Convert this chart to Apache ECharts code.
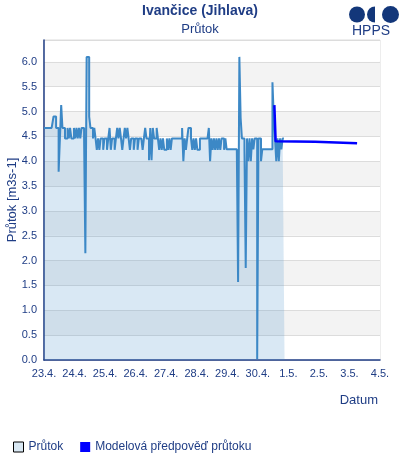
<!DOCTYPE html>
<html>
<head>
<meta charset="utf-8">
<title>Ivančice (Jihlava)</title>
<script src="https://cdn.jsdelivr.net/npm/echarts@6/dist/echarts.min.js"></script>
<style>
  html, body { margin: 0; padding: 0; background: #fff; }
  #chart-area { width: 400px; height: 460px; }
</style>
</head>
<body>
<div id="chart-area"></div>
<script>
// osa x: hodiny od 23.4. 0:00
var dayLabels = ['23.4.', '24.4.', '25.4.', '26.4.', '27.4.', '28.4.', '29.4.', '30.4.', '1.5.', '2.5.', '3.5.', '4.5.']

// měřený průtok, hodinové hodnoty od 23.4. 0:00
var obsFlow = [
  4.67, 4.67, 4.67, 4.67, 4.67, 4.67, 4.67, 4.67, 4.9, 4.9, 4.67, 4.67, 3.79, 4.46, 5.13, 4.67,
  4.67, 4.46, 4.46, 4.67, 4.46, 4.67, 4.46, 4.46, 4.67, 4.46, 4.67, 4.46, 4.67, 4.46, 4.67, 4.67,
  4.46, 2.15, 6.1, 6.1, 4.9, 4.67, 4.67, 4.46, 4.67, 4.46, 4.23, 4.46, 4.23,
  4.46, 4.46, 4.23, 4.46, 4.46, 4.23, 4.46, 4.67,
  4.23, 4.46, 4.46, 4.23, 4.46, 4.67, 4.46, 4.67,
  4.46, 4.23, 4.46, 4.67, 4.46, 4.67, 4.46, 4.23,
  4.46, 4.46, 4.23, 4.46, 4.46, 4.23, 4.46, 4.46,
  4.46, 4.23, 4.46, 4.67, 4.46, 4.46, 4.02, 4.67,
  4.02, 4.67, 4.46, 4.46, 4.67, 4.46, 4.23, 4.46,
  4.23, 4.46, 4.23, 4.23, 4.46, 4.23, 4.46, 4.23,
  4.46, 4.46, 4.46, 4.46, 4.46, 4.46, 4.46, 4.46,
  4.67, 4.0, 4.46, 4.23, 4.46, 4.67, 4.67, 4.46,
  4.23, 4.46, 4.23, 4.46, 4.23, 4.23, 4.46, 4.46,
  4.46, 4.46, 4.46, 4.46, 4.46, 4.67, 4.0, 4.46,
  4.23, 4.46, 4.23, 4.46, 4.23, 4.46, 4.23, 4.46,
  4.46, 4.23, 4.46, 4.24, 4.24, 4.24, 4.24, 4.24,
  4.24, 4.24, 4.24, 4.24, 1.57, 6.1, 4.87, 4.46,
  4.46, 4.24, 1.85, 4.46, 4.0, 4.46, 4.0, 4.46,
  4.24, 4.46, 4.46, 0.02, 4.46, 4.46, 4.0, 4.24,
  4.24, 4.24, 4.24, 4.24, 4.24, 4.24, 4.24, 5.59,
  4.9, 4.46, 4.0, 4.46, 4.0, 4.46, 4.24, 4.46, 4.46
]

// modelová předpověď: [hodina, průtok]
var fcHours = [181, 182, 213, 214, 246]
var fcFlow = [5.13, 4.4, 4.39, 4.37, 4.36]

var textColor = '#1f3d85'
var logoColor = '#13377a'

var obsData = obsFlow.map(function (v, i) { return [i, v] })
var fcData = fcHours.map(function (h, i) { return [h, fcFlow[i]] })

var chart = echarts.init(document.getElementById('chart-area'))
chart.setOption({
  animation: false,
  textStyle: { fontFamily: 'Liberation Sans, Arial, sans-serif' },
  title: {
    text: 'Ivančice (Jihlava)',
    subtext: 'Průtok',
    left: 'center',
    top: -1,
    itemGap: 5,
    textStyle: { color: textColor, fontSize: 14, fontWeight: 'bold' },
    subtextStyle: { color: textColor, fontSize: 13 }
  },
  graphic: [
    // logo HPPS
    { type: 'circle', shape: { cx: 357, cy: 14.5, r: 8 }, style: { fill: logoColor } },
    { type: 'sector', shape: { cx: 375, cy: 14.5, r: 8, startAngle: Math.PI / 2, endAngle: Math.PI * 1.5 }, style: { fill: logoColor } },
    { type: 'circle', shape: { cx: 390.5, cy: 14.5, r: 8.5 }, style: { fill: logoColor } },
    { type: 'text', left: 352, top: 24, style: { text: 'HPPS', fill: textColor, font: '14px Liberation Sans, Arial, sans-serif' } }
  ],
  legend: {
    left: 8,
    top: 436,
    itemWidth: 10,
    itemHeight: 10,
    itemGap: 17,
    icon: 'rect',
    textStyle: { color: textColor, fontSize: 12 },
    data: [
      { name: 'Průtok', itemStyle: { color: '#d9e8f3', borderColor: '#000', borderWidth: 1 } },
      { name: 'Modelová předpověď průtoku', itemStyle: { color: '#0000ff' } }
    ]
  },
  grid: {
    left: 44,
    right: 20,
    top: 40,
    bottom: 100,
    outerBoundsMode: 'none',
    show: true,
    borderColor: '#dcdcdc',
    borderWidth: 1
  },
  xAxis: {
    type: 'value',
    min: 0,
    max: 264,
    interval: 24,
    name: 'Datum',
    nameLocation: 'end',
    nameGap: -2,
    nameTextStyle: { color: textColor, fontSize: 13, align: 'right', verticalAlign: 'top', padding: [34, 0, 0, 0] },
    axisLine: { lineStyle: { color: '#1f3d85', width: 1.5 } },
    axisTick: { show: false },
    splitLine: { show: false },
    axisLabel: {
      color: textColor,
      fontSize: 11,
      margin: 8,
      formatter: function (v) { return dayLabels[Math.round(v / 24)] }
    }
  },
  yAxis: {
    type: 'value',
    min: 0,
    max: 6.44,
    interval: 0.5,
    name: 'Průtok [m3s-1]',
    nameLocation: 'middle',
    nameGap: 25,
    nameMoveOverlap: false,
    nameTextStyle: { color: textColor, fontSize: 13 },
    axisLine: { show: true, lineStyle: { color: '#1f3d85', width: 1.5 } },
    axisTick: { show: false },
    axisLabel: {
      color: textColor,
      fontSize: 11,
      margin: 7,
      showMaxLabel: false,
      formatter: function (v) { return v.toFixed(1) }
    },
    splitLine: { lineStyle: { color: '#dcdcdc' } },
    splitArea: { show: true, areaStyle: { color: ['#ffffff', '#f3f3f3'] } }
  },
  series: [
    {
      name: 'Průtok',
      type: 'line',
      step: 'middle',
      data: obsData,
      showSymbol: false,
      lineStyle: { color: '#3c88c6', width: 2 },
      itemStyle: { color: '#3c88c6' },
      areaStyle: { color: 'rgba(60, 136, 198, 0.28)' },
      z: 2
    },
    {
      name: 'Modelová předpověď průtoku',
      type: 'line',
      data: fcData,
      showSymbol: false,
      lineStyle: { color: '#0000ff', width: 2.5 },
      itemStyle: { color: '#0000ff' },
      z: 3
    }
  ]
})
</script>
</body>
</html>
